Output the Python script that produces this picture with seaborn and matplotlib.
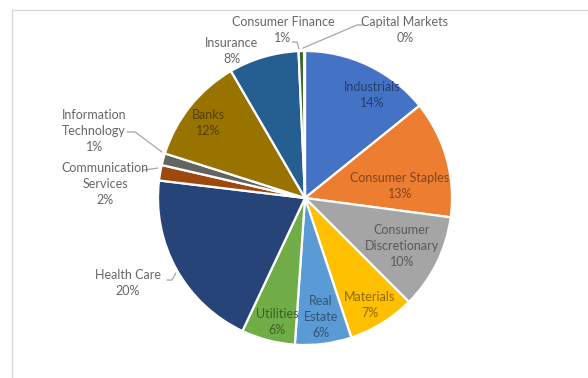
import numpy as np
import matplotlib
matplotlib.use("Agg")
import matplotlib.pyplot as plt
from matplotlib.lines import Line2D
import matplotlib.colors as mcolors
import seaborn as sns

# Sector weights (%), clockwise from 12 o'clock
sectors = ["Industrials", "Consumer Staples", "Consumer Discretionary", "Materials",
           "Real Estate", "Utilities", "Health Care", "Communication Services",
           "Information Technology", "Banks", "Insurance", "Consumer Finance",
           "Capital Markets"]
weights = [14.2, 12.9, 10.4, 7.4, 6.2, 5.9, 19.9, 1.7, 1.3, 11.7, 7.7, 0.6, 0.1]

# Label text as shown (line breaks)
label_text = ["Industrials", "Consumer Staples", "Consumer\nDiscretionary", "Materials",
              "Real\nEstate", "Utilities", "Health Care", "Communication\nServices",
              "Information\nTechnology", "Banks", "Insurance", "Consumer Finance",
              "Capital Markets"]

palette_hex = ["#4472C4", "#ED7D31", "#A5A5A5", "#FFC000", "#5B9BD5", "#70AD47",
               "#264478", "#9E480E", "#636363", "#997300", "#255E91", "#43682B",
               "#698ED0"]

sns.set_theme(style="white")
plt.rcParams["font.family"] = ["Lato", "DejaVu Sans"]
colors = sns.color_palette(palette_hex)

fig = plt.figure(figsize=(5.88, 3.78), dpi=100)
fig.patch.set_facecolor("white")

# pie centred at (305, 198) px with radius 147 px
W, H = 588, 378
cx, cy, R = 305, 198, 147
ax = fig.add_axes([(cx - R) / W, (H - cy - R) / H, 2 * R / W, 2 * R / H])

wedges, _ = ax.pie(weights, colors=colors, startangle=90, counterclock=False,
                   radius=1.0, center=(0, 0),
                   wedgeprops=dict(edgecolor="white", linewidth=1.6))
ax.set_xlim(-1, 1)
ax.set_ylim(-1, 1)
ax.set_aspect("equal")
ax.axis("off")


def darker(c, f=0.55):
    r, g, b = mcolors.to_rgb(c)
    return (r * f, g * f, b * f)


# label block centres in axes data units; inside labels use a darker slice tone
layout = {
    "Industrials": ((0.456, 0.70), "in"),
    "Consumer Staples": ((0.646, 0.082), "in"),
    "Consumer Discretionary": ((0.66, -0.327), "in"),
    "Materials": ((0.44, -0.728), "in"),
    "Real Estate": ((0.109, -0.81), "in"),
    "Utilities": ((-0.19, -0.844), "in"),
    "Health Care": ((-1.204, -0.578), "out"),
    "Communication Services": ((-1.36, 0.095), "out"),
    "Information Technology": ((-1.435, 0.456), "out"),
    "Banks": ((-0.66, 0.51), "in"),
    "Insurance": ((-0.497, 1.0), "out"),
    "Consumer Finance": ((-0.15, 1.143), "out"),
    "Capital Markets": ((0.68, 1.143), "out"),
}

line_step = 16 / R  # 16 px between label lines

for name, txt, w, col in zip(sectors, label_text, weights, colors):
    (x, y), kind = layout[name]
    tcol = darker(col) if kind == "in" else "#666666"
    if name == "Consumer Discretionary":
        tcol = "#595959"
    lines = txt.split("\n") + [f"{round(w):.0f}%"]
    n = len(lines)
    for i, s in enumerate(lines):
        yy = y + ((n - 1) / 2 - i) * line_step
        ax.text(x, yy, s, ha="center", va="center", fontsize=9, color=tcol,
                clip_on=False)

# leader lines for outside labels
leaders = [
    [(-0.014, 1.02), (0.354, 1.177), (0.395, 1.177)],
    [(-0.088, 1.061), (-0.054, 1.061), (-0.041, 1.014)],
    [(-1.211, 0.449), (-1.156, 0.449), (-0.973, 0.313)],
    [(-1.102, 0.19), (-1.0, 0.204)],
    [(-0.939, -0.558), (-0.905, -0.558), (-0.878, -0.51)],
]
for pts in leaders:
    xs, ys = zip(*pts)
    ax.plot(xs, ys, color="#A6A6A6", lw=0.9, clip_on=False)

# chart area border (top and left edges visible)
top = 1 - 9.5 / H
left = 11.5 / W
fig.add_artist(Line2D([left, 1], [top, top], color="#D9D9D9", lw=1.0,
                      transform=fig.transFigure))
fig.add_artist(Line2D([left, left], [0, top], color="#D9D9D9", lw=1.0,
                      transform=fig.transFigure))

fig.savefig("out.png", dpi=100, facecolor="white")
